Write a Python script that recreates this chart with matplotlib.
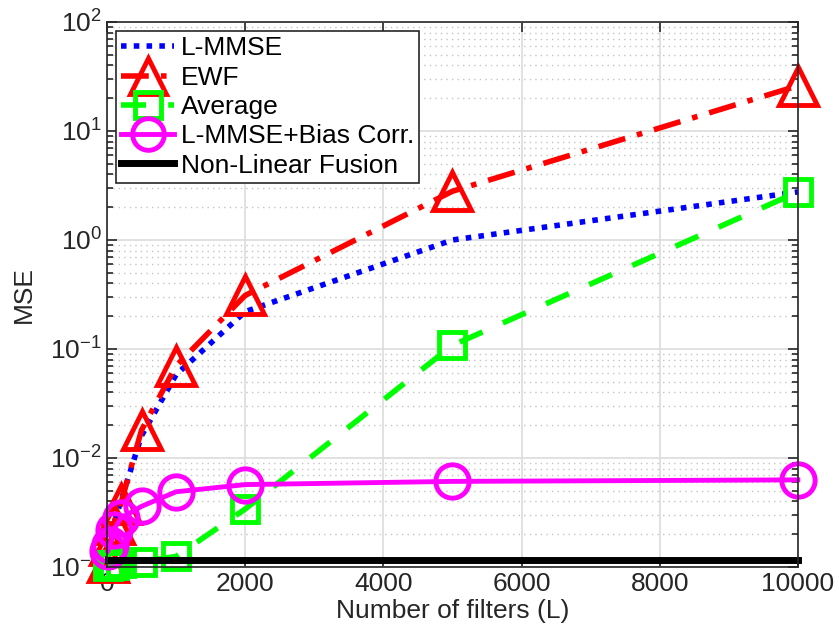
import numpy as np
import matplotlib
matplotlib.use("Agg")
import matplotlib.pyplot as plt
from matplotlib.ticker import LogLocator, FixedLocator

plt.rcParams['font.family'] = ['Liberation Sans', 'DejaVu Sans']
plt.rcParams['mathtext.fontset'] = 'custom'
plt.rcParams['mathtext.rm'] = 'Liberation Sans'
plt.rcParams['mathtext.it'] = 'Liberation Sans'

# number of filters used in the fusion
L = [10, 50, 100, 200, 500, 1000, 2000, 5000, 10000]

mse_lmmse = [0.0012, 0.0018, 0.0025, 0.0040, 0.016, 0.058, 0.22, 1.0, 2.76]
mse_ewf = [0.0011, 0.0016, 0.0025, 0.0038, 0.018, 0.070, 0.31, 2.8, 26.0]
mse_avg = [0.00102, 0.00104, 0.00105, 0.00108, 0.00112, 0.00125, 0.0034, 0.108, 2.76]
mse_bias = [0.0014, 0.0016, 0.0022, 0.0028, 0.0036, 0.0049, 0.0057, 0.0061, 0.0063]
mse_nonlin = [0.00116] * len(L)

fig = plt.figure(figsize=(8.39, 6.37), dpi=100)
ax = fig.add_axes([0.1275, 0.1099, 0.8235, 0.8556])

ax.semilogy(L, mse_lmmse, color=(0, 0, 1), lw=4, ls=(0, (1, 1.3)),
            dash_capstyle='butt', label='L-MMSE', clip_on=False)
ax.semilogy(L, mse_ewf, color=(1, 0, 0), lw=4, ls=(0, (5, 2.2, 1, 2.2)),
            marker='^', ms=27, mfc='none', mew=3.5, label='EWF', clip_on=False)
ax.semilogy(L, mse_avg, color=(0, 1, 0), lw=4, ls=(0, (4.5, 4)),
            marker='s', ms=19, mfc='none', mew=3.5, label='Average', clip_on=False)
ax.semilogy(L, mse_bias, '-', color=(1, 0, 1), lw=3.5, marker='o', ms=24,
            mfc='none', mew=3.5, label='L-MMSE+Bias Corr.', clip_on=False)
ax.semilogy(L, mse_nonlin, '-', color='k', lw=5, label='Non-Linear Fusion', clip_on=False)

ax.set_xlim(0, 10000)
ax.set_ylim(1e-3, 1e2)
ax.xaxis.set_major_locator(FixedLocator([0, 2000, 4000, 6000, 8000, 10000]))
ax.yaxis.set_major_locator(LogLocator(base=10, numticks=10))
ax.yaxis.set_minor_locator(LogLocator(base=10, subs=np.arange(2, 10), numticks=10))

ax.grid(True, which='major', color='#dcdcdc', lw=1.2, ls='-')
ax.grid(True, which='minor', axis='y', color='#c4c4c4', lw=1.0, ls=(0, (1, 3)))
ax.set_axisbelow(True)

ax.tick_params(which='both', direction='in', top=True, right=True,
               colors='#262626', labelsize=19, width=1.2)
ax.tick_params(which='major', length=7)
ax.tick_params(which='minor', length=4)
for s in ax.spines.values():
    s.set_color('#262626')
    s.set_linewidth(1.2)

ax.set_xlabel('Number of filters (L)', fontsize=19, color='#262626', labelpad=2)
ax.set_ylabel('MSE', fontsize=19, color='#262626', labelpad=10)

leg = ax.legend(loc='upper left', fontsize=19, frameon=True, fancybox=False,
                edgecolor='#262626', framealpha=1, handlelength=2.0,
                handletextpad=0.25, borderpad=0.2, labelspacing=0.2,
                borderaxespad=0.35, markerscale=0.95)
leg.get_frame().set_linewidth(1.2)

fig.savefig('out.png', dpi=100)
